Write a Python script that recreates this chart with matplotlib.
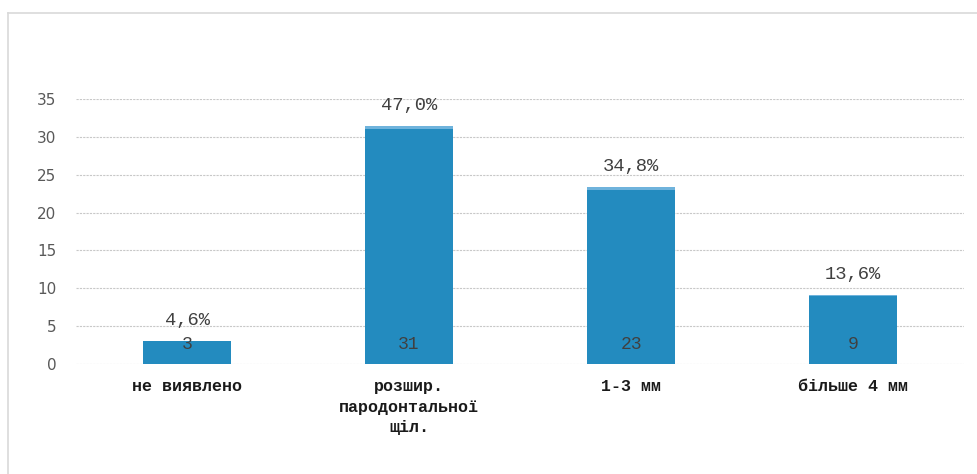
import matplotlib.pyplot as plt
import numpy as np
from matplotlib.lines import Line2D

# Data
categories = ['не виявлено', 'розшир.\nпародонтальної\nщіл.', '1-3 мм', 'більше 4 мм']
counts = [3, 31, 23, 9]
shares = [0.046, 0.470, 0.348, 0.136]
share_labels = ['4,6%', '47,0%', '34,8%', '13,6%']
yticks = [0, 5, 10, 15, 20, 25, 30, 35]

W, H = 978, 474
fig = plt.figure(figsize=(W / 100, H / 100), dpi=100)
fig.patch.set_facecolor('white')

# chart frame (top and left edges visible)
fig.add_artist(Line2D([8 / W, 1], [1 - 13 / H, 1 - 13 / H], color='#d9d9d9', lw=1.2,
                      transform=fig.transFigure))
fig.add_artist(Line2D([8 / W, 8 / W], [0, 1 - 13 / H], color='#d9d9d9', lw=1.2,
                      transform=fig.transFigure))

ax = fig.add_axes([76 / W, 110 / H, (964 - 76) / W, (364 - 99) / H])

x = np.arange(len(categories))
bw = 0.4
ax.bar(x, counts, width=bw, color='#238bbf', zorder=3)
ax.bar(x, shares, width=bw, bottom=counts, color='#6fb3dc', zorder=3)

ax.set_xlim(-0.5, len(categories) - 0.5)
ax.set_ylim(0, 35)
ax.set_yticks(yticks)
ax.yaxis.grid(True, color='#c8c8c8', linestyle=(0, (2, 1)), lw=0.8, zorder=0)

for s in ax.spines.values():
    s.set_visible(False)
ax.tick_params(axis='both', length=0)
ax.tick_params(axis='y', labelsize=11, labelcolor='#595959', pad=14)
ax.set_xticks(x)
ax.set_xticklabels(categories, fontfamily='Liberation Mono', fontweight='bold',
                   fontsize=12, color='#1a1a1a', linespacing=1.45)
ax.tick_params(axis='x', pad=11)

for i in range(len(categories)):
    ax.text(x[i], 1.5, str(counts[i]), ha='center', va='bottom',
            fontfamily='Liberation Mono', fontsize=13, color='#404040', zorder=4)
    ax.text(x[i], counts[i] + shares[i] + 1.6, share_labels[i], ha='center', va='bottom',
            fontfamily='Liberation Mono', fontsize=13.5, color='#404040', zorder=4)

fig.savefig('out.png', dpi=100)
